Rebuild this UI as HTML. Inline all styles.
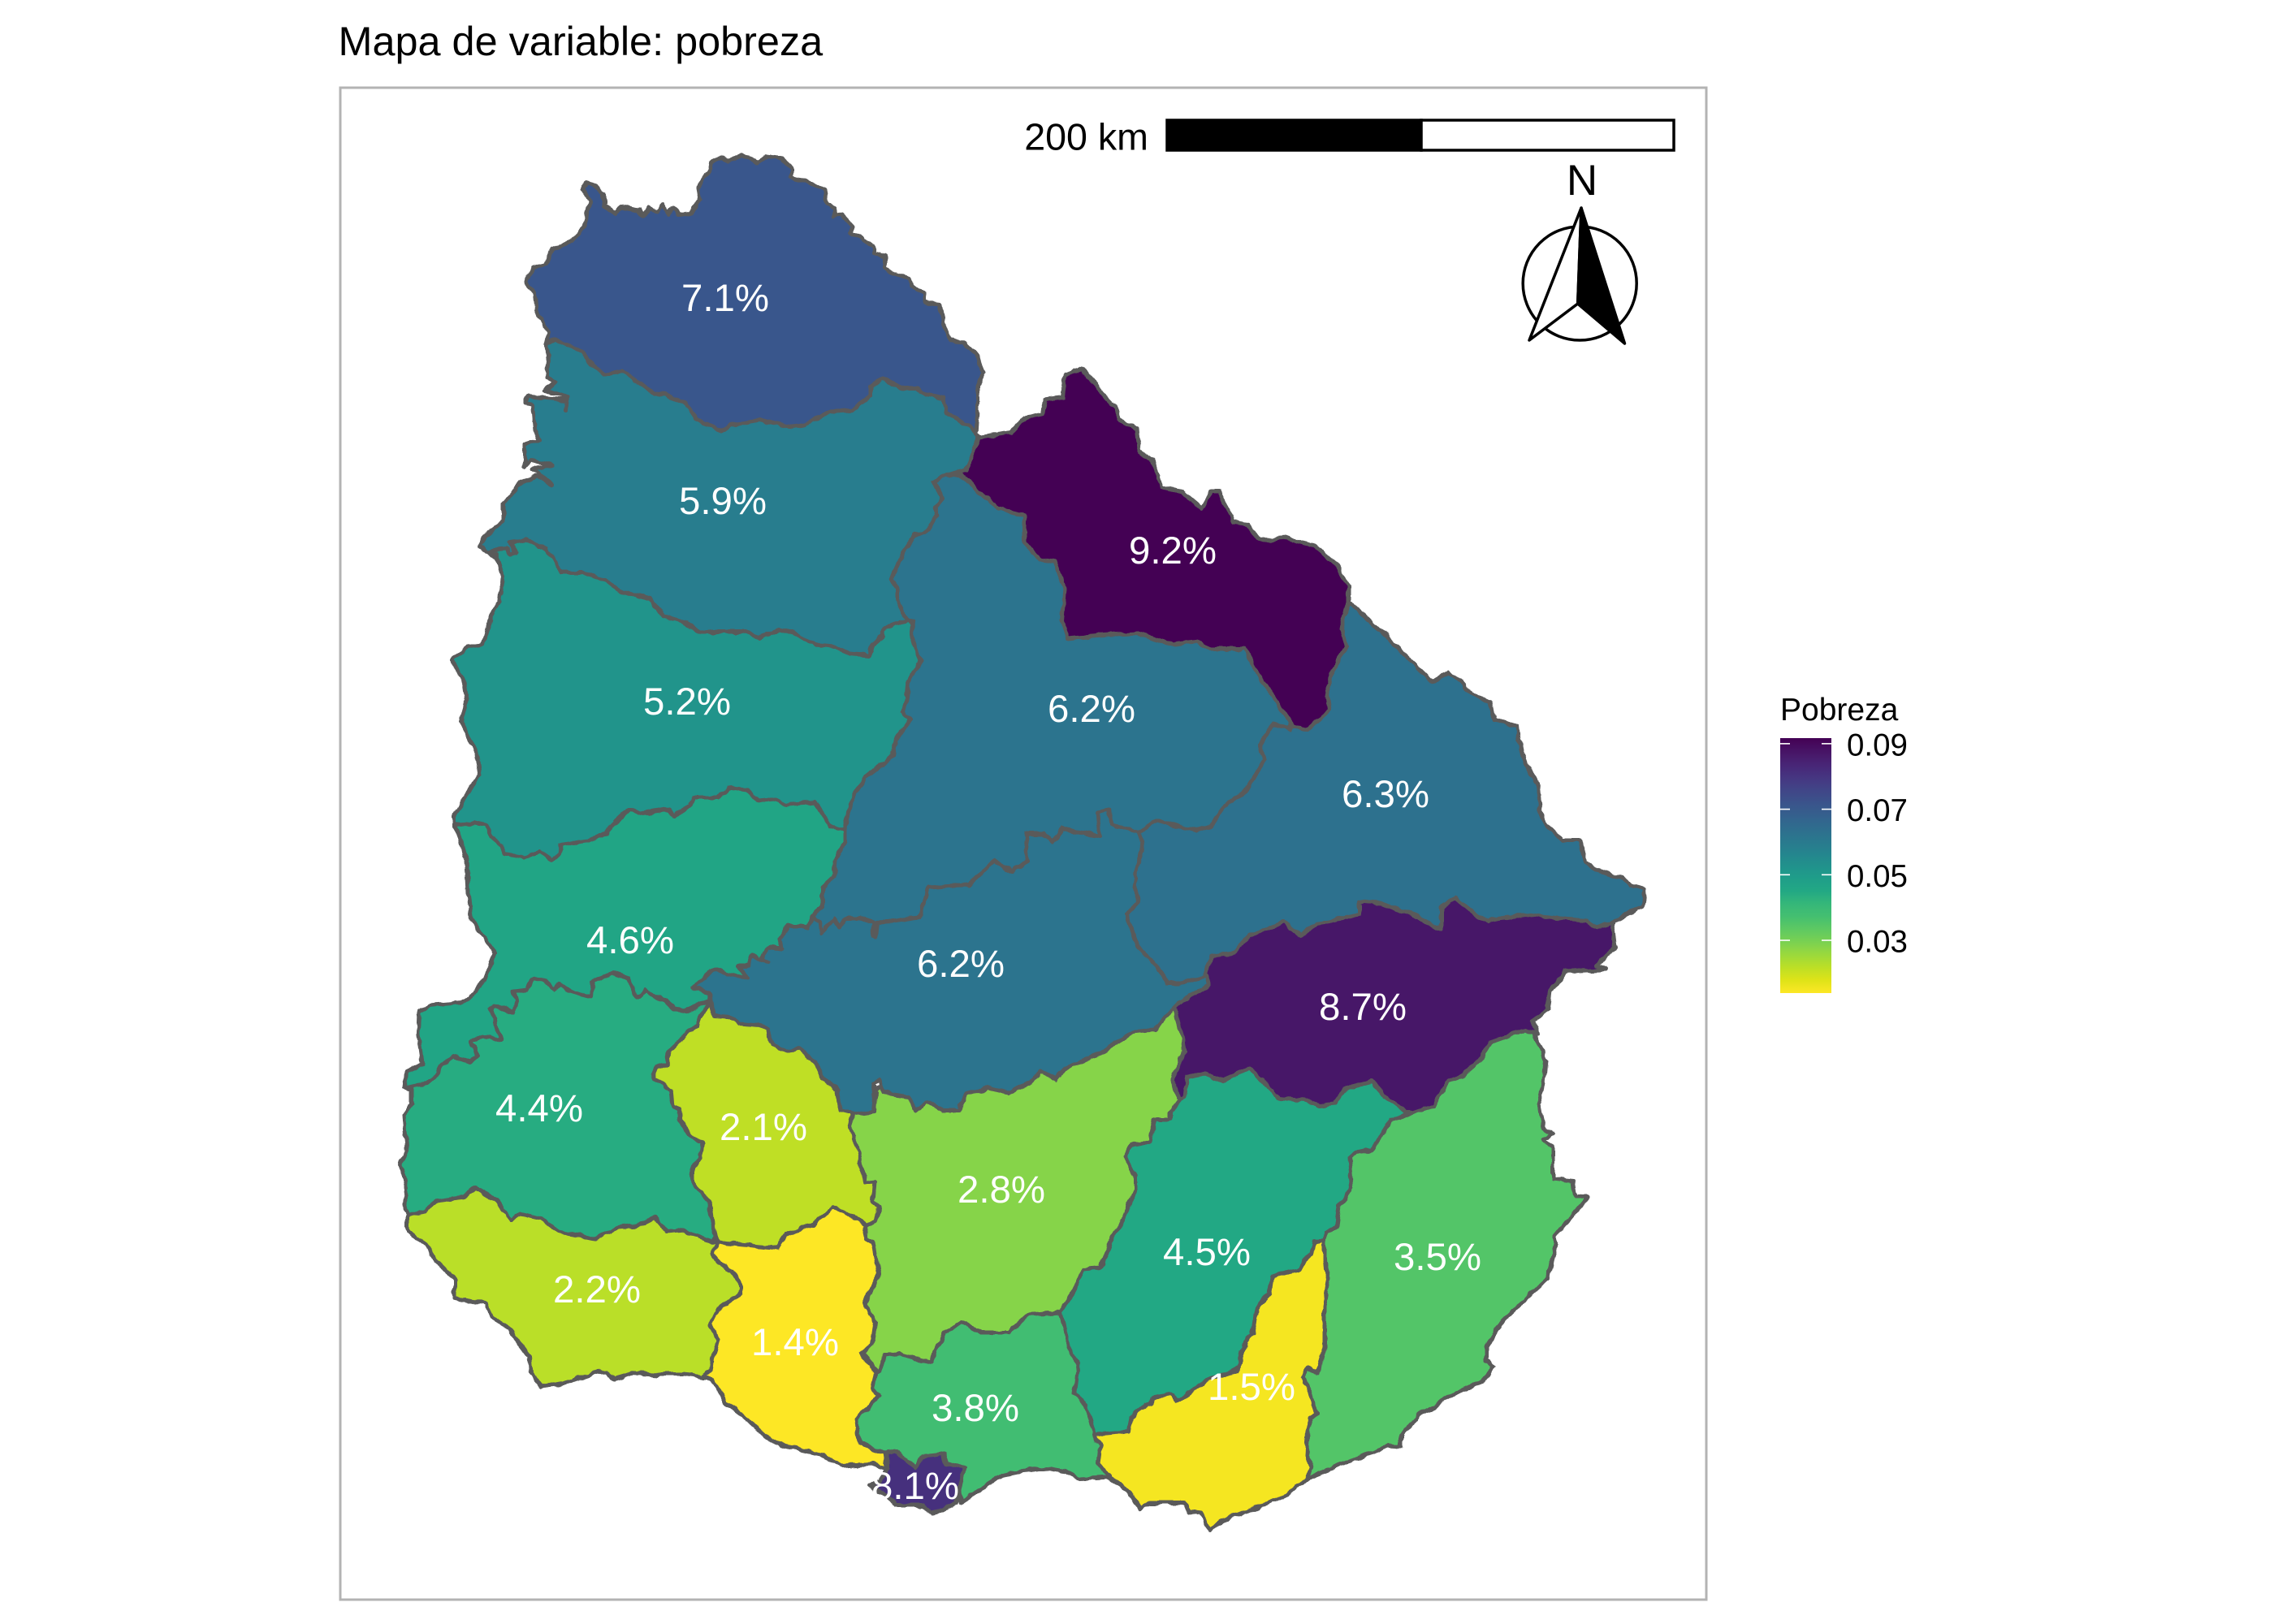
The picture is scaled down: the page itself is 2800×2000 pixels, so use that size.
<!DOCTYPE html>
<html lang="es">
<head>
<meta charset="utf-8">
<title>Mapa de variable: pobreza</title>
<style>
html,body{margin:0;padding:0;background:#fff;}
svg{display:block;font-family:"Liberation Sans",sans-serif;}
.dep{stroke:#5a5a5a;stroke-width:5;stroke-linejoin:round;}
.lab{fill:#fff;font-size:47.4px;text-anchor:middle;}
.leg{fill:#000;font-size:38.5px;}
</style>
</head>
<body>
<svg xmlns="http://www.w3.org/2000/svg" width="2800" height="2000" viewBox="0 0 2800 2000">
<defs>
<filter id="rough" filterUnits="userSpaceOnUse" x="0" y="0" width="2800" height="2000" color-interpolation-filters="sRGB">
<feTurbulence type="fractalNoise" baseFrequency="0.07" numOctaves="2" seed="4" result="n"/>
<feDisplacementMap in="SourceGraphic" in2="n" scale="7" xChannelSelector="R" yChannelSelector="G"/>
</filter>
</defs>
<rect x="0" y="0" width="2800" height="2000" fill="#fff"/>
<text x="416.5" y="68" font-size="50.4" fill="#000">Mapa de variable: pobreza</text>
<g id="regions" filter="url(#rough)">
<polygon class="dep" id="artigas" points="673,423 676,410 670,401 661,383 659,361 647,347 656,330 671,325 681,307 704,296 719,280 726,249 717,231 722,224 730,227 743,238 743,254 758,262 766,255 786,259 791,267 799,256 809,260 816,252 823,264 829,255 835,263 850,262 863,247 860,231 873,211 875,202 888,192 896,198 914,192 934,200 944,192 962,195 975,207 975,218 1000,227 1015,234 1018,251 1028,256 1026,267 1036,264 1049,278 1046,287 1059,292 1074,303 1077,312 1090,316 1090,330 1100,336 1120,343 1123,352 1138,363 1138,372 1157,375 1161,397 1169,417 1187,423 1202,437 1211,459 1204,475 1204,508 1202,533 1195,560 900,600 720,520 690,445"/>
<polygon class="dep" id="salto" points="673,423 673,428 676,439 673,464 684,470 671,481 699,489 697,506 698,493 648,488 648,497 656,499 659,530 664,542 646,548 646,575 653,566 680,573 656,577 680,597 659,586 641,595 620,620 620,642 595,662 591,673 602,680 640,720 760,760 880,810 1100,830 1140,800 1225,600 1210,545 1202,533 1189,522 1166,508 1163,490 1141,486 1128,479 1113,479 1087,466 1072,475 1072,488 1049,504 1031,506 1008,513 990,524 975,526 934,518 898,524 888,531 857,515 845,497 819,486 804,484 766,457 743,461 730,450 717,434 697,423 684,418"/>
<polygon class="dep" id="paysandu" points="560,1017 560,1002 574,979 591,955 587,928 568,888 575,863 572,843 556,812 577,796 595,794 605,758 615,740 620,709 610,682 602,680 608,677 625,676 628,683 635,682 628,668 648,664 674,676 681,689 692,705 717,705 743,714 766,729 801,738 817,759 837,765 863,778 914,778 934,785 960,775 977,780 1003,794 1028,796 1046,805 1069,807 1074,794 1087,783 1090,772 1118,763 1150,800 1100,1000 1000,1080 700,1090 610,1080 575,1030"/>
<polygon class="dep" id="rionegro" points="560,1017 585,1013 598,1016 605,1031 618,1042 621,1051 645,1055 665,1048 681,1059 688,1053 690,1040 725,1035 748,1026 759,1011 775,996 788,1002 824,996 829,1006 850,993 854,982 884,982 897,970 920,973 933,986 955,984 969,991 1004,988 1022,1017 1040,1022 1060,1060 1020,1160 900,1235 850,1290 700,1300 530,1350 498,1339 500,1321 520,1310 515,1274 516,1245 529,1238 574,1234 596,1207 609,1174 596,1154 580,1131 576,1100 574,1060 565,1026"/>
<polygon class="dep" id="soriano" points="498,1339 509,1337 527,1334 540,1323 542,1312 558,1301 580,1308 588,1301 580,1281 596,1276 616,1282 609,1254 603,1243 607,1238 632,1246 636,1234 632,1220 650,1218 656,1205 672,1209 681,1218 690,1212 701,1220 728,1227 730,1209 754,1198 775,1205 784,1229 795,1220 819,1232 830,1243 844,1245 873,1234 880,1300 900,1500 850,1560 520,1520 502,1497 498,1488 501,1463 493,1434 501,1419 497,1374 507,1360 507,1338"/>
<polygon class="dep" id="colonia" points="502,1497 522,1492 538,1479 571,1474 585,1463 612,1479 629,1504 641,1495 667,1501 688,1517 732,1526 761,1512 784,1510 806,1499 821,1517 842,1515 873,1528 884,1530 920,1600 900,1690 864,1696 842,1693 810,1693 784,1691 757,1699 746,1689 734,1690 694,1704 667,1708 654,1691 652,1671 623,1633 605,1622 600,1606 560,1599 560,1575 538,1553 525,1533 502,1517"/>
<polygon class="dep" id="flores" points="873,1237 862,1252 859,1263 846,1272 824,1296 821,1310 810,1314 804,1327 826,1343 828,1363 837,1366 839,1381 850,1401 864,1406 862,1426 853,1439 853,1457 873,1479 877,1506 884,1528 900,1560 1050,1560 1100,1500 1100,1400 1060,1340 1000,1270 900,1240"/>
<polygon class="dep" id="florida" points="1049,1370 1047,1390 1056,1412 1065,1457 1076,1455 1074,1479 1083,1486 1078,1504 1067,1510 1040,1600 1060,1660 1100,1720 1300,1690 1350,1620 1420,1420 1470,1340 1480,1300 1470,1245 1446,1241 1400,1240 1200,1320 1100,1330 1060,1350"/>
<polygon class="dep" id="durazno" points="1000,1129 995,1142 984,1140 971,1140 960,1156 962,1169 946,1167 938,1180 946,1185 926,1176 922,1189 909,1189 920,1205 897,1200 884,1194 873,1198 853,1216 873,1223 875,1234 880,1252 906,1254 911,1261 935,1263 946,1267 951,1287 971,1294 984,1292 1004,1308 1013,1328 1031,1343 1036,1368 1047,1368 1060,1372 1076,1370 1078,1345 1074,1334 1083,1330 1087,1345 1118,1350 1127,1368 1141,1357 1161,1368 1180,1368 1190,1348 1217,1340 1242,1346 1269,1333 1282,1320 1300,1329 1309,1318 1334,1305 1358,1296 1367,1288 1398,1270 1422,1268 1446,1241 1480,1240 1500,1195 1470,1180 1420,1100 1400,960 1100,1050 1025,1115 1013,1118"/>
<polygon class="dep" id="tacuarembo" points="1164,584 1151,593 1161,613 1151,624 1153,635 1143,653 1128,658 1113,680 1097,714 1105,725 1105,738 1113,758 1118,763 1125,765 1123,785 1133,814 1118,839 1116,859 1112,877 1121,886 1103,912 1100,930 1065,957 1047,988 1040,1022 1040,1037 1029,1060 1027,1080 1013,1093 1013,1118 1000,1129 1009,1136 1011,1149 1027,1131 1034,1142 1040,1131 1058,1131 1076,1136 1074,1151 1078,1154 1080,1136 1100,1135 1131,1130 1143,1093 1192,1090 1225,1060 1247,1074 1265,1060 1262,1049 1265,1027 1284,1027 1296,1038 1308,1021 1354,1030 1351,1000 1366,997 1369,1016 1403,1024 1450,1060 1530,1020 1580,950 1590,880 1530,780 1400,700 1200,585 1170,585"/>
<polygon class="dep" id="cerrolargo" points="1403,1024 1406,1049 1397,1076 1400,1112 1388,1126 1400,1164 1425,1189 1437,1211 1452,1211 1486,1202 1500,1210 1700,1150 1900,1170 1985,1150 1988,1134 2022,1117 2025,1095 2006,1090 2000,1082 1988,1079 1966,1071 1951,1060 1945,1035 1924,1035 1905,1016 1896,999 1893,969 1872,923 1868,895 1841,887 1835,865 1804,849 1801,838 1783,829 1764,840 1663,742 1640,760 1625,860 1600,885 1590,898 1568,892 1552,917 1556,936 1538,969 1510,991 1492,1016 1473,1024 1425,1010"/>
<polygon class="dep" id="rivera" points="1170,585 1189,580 1198,555 1204,539 1244,533 1262,514 1284,509 1287,492 1308,489 1311,462 1333,454 1351,478 1372,500 1379,517 1400,528 1403,555 1418,566 1431,599 1455,605 1480,626 1492,605 1501,605 1519,643 1535,646 1550,665 1584,662 1620,673 1645,695 1660,722 1660,742 1651,775 1658,797 1642,824 1633,851 1636,873 1627,884 1611,898 1593,894 1559,846 1532,799 1492,799 1473,791 1446,794 1400,780 1351,783 1314,786 1308,764 1311,725 1299,692 1281,690 1262,668 1262,635 1229,626 1183,585"/>
<polygon class="dep" id="rocha" points="1889,1273 1903,1307 1900,1335 1894,1361 1900,1387 1912,1396 1899,1405 1912,1413 1912,1452 1937,1455 1940,1474 1955,1474 1915,1522 1915,1539 1906,1574 1882,1596 1851,1626 1830,1658 1830,1676 1839,1682 1830,1697 1790,1717 1747,1743 1726,1767 1726,1782 1710,1781 1612,1819 1606,1823 1590,1800 1590,1700 1615,1560 1600,1500 1650,1420 1690,1380 1740,1350 1800,1300 1880,1250"/>
<polygon class="dep" id="lavalleja" points="1453,1353 1441,1370 1441,1379 1422,1379 1416,1405 1392,1411 1386,1424 1398,1448 1398,1465 1383,1500 1367,1530 1355,1561 1334,1563 1321,1593 1306,1615 1280,1700 1330,1760 1400,1790 1600,1620 1625,1560 1631,1526 1634,1517 1646,1511 1649,1485 1664,1463 1661,1426 1670,1420 1689,1416 1701,1398 1713,1379 1738,1370 1730,1345 1689,1310 1539,1290 1465,1310"/>
<polygon class="dep" id="treintaytres" points="1988,1134 1966,1142 1954,1134 1920,1131 1878,1126 1832,1134 1816,1126 1792,1106 1774,1117 1774,1145 1743,1128 1691,1109 1673,1112 1673,1126 1639,1134 1620,1137 1602,1153 1581,1136 1538,1153 1516,1175 1492,1178 1483,1200 1486,1202 1489,1213 1455,1233 1446,1241 1453,1266 1459,1294 1444,1329 1447,1344 1453,1353 1459,1351 1462,1327 1484,1322 1505,1331 1539,1316 1554,1329 1573,1352 1606,1355 1625,1361 1643,1359 1655,1342 1674,1335 1689,1331 1704,1348 1723,1364 1732,1370 1738,1370 1765,1361 1784,1331 1802,1325 1824,1303 1836,1283 1878,1268 1893,1274 1887,1257 1905,1244 1908,1222 1927,1197 1979,1194 1966,1189 1988,1167 1985,1142"/>
<polygon class="dep" id="maldonado" points="1606,1823 1615,1808 1609,1791 1612,1747 1622,1741 1612,1713 1603,1695 1609,1684 1623,1691 1631,1656 1631,1609 1637,1574 1631,1552 1631,1527 1618,1528 1615,1544 1600,1563 1566,1572 1563,1593 1548,1609 1542,1643 1533,1652 1524,1687 1484,1700 1450,1725 1441,1717 1419,1721 1416,1728 1392,1745 1389,1763 1346,1767 1330,1790 1340,1808 1367,1821 1392,1838 1404,1858 1416,1851 1459,1851 1465,1862 1478,1864 1490,1884 1499,1875 1539,1860 1585,1841"/>
<polygon class="dep" id="canelones" points="1306,1616 1266,1619 1242,1641 1230,1641 1208,1641 1184,1628 1162,1641 1147,1677 1132,1674 1107,1667 1089,1669 1083,1689 1060,1690 1040,1750 1060,1790 1092,1800 1110,1810 1180,1830 1184,1849 1233,1817 1257,1812 1288,1808 1312,1812 1331,1821 1367,1819 1352,1802 1355,1780 1346,1767 1346,1760 1337,1730 1323,1717 1328,1680 1318,1665"/>
<polygon class="dep" id="sanjose" points="884,1530 958,1537 967,1521 1002,1508 1025,1486 1040,1495 1051,1497 1067,1510 1065,1526 1076,1530 1083,1568 1065,1606 1078,1629 1074,1655 1060,1666 1078,1689 1074,1709 1083,1720 1054,1747 1058,1778 1089,1789 1092,1809 1074,1803 1036,1805 1011,1791 962,1780 942,1769 922,1749 893,1727 884,1709 871,1696 864,1696 875,1687 877,1673 884,1649 875,1631 884,1613 911,1593 913,1584 902,1566 886,1555 877,1543"/>
<polygon class="dep" id="montevideo" points="1092,1789 1103,1787 1127,1807 1136,1794 1161,1791 1165,1803 1187,1808 1184,1821 1178,1851 1147,1865 1136,1854 1103,1854 1094,1843 1071,1829 1083,1825 1092,1809"/>
</g>
<g id="labels">
<text class="lab" id="lab-artigas" x="893" y="383">7.1%</text>
<text class="lab" id="lab-salto" x="890" y="633">5.9%</text>
<text class="lab" id="lab-paysandu" x="846" y="880">5.2%</text>
<text class="lab" id="lab-rionegro" x="776" y="1174">4.6%</text>
<text class="lab" id="lab-soriano" x="664" y="1381">4.4%</text>
<text class="lab" id="lab-colonia" x="735" y="1604">2.2%</text>
<text class="lab" id="lab-flores" x="940" y="1404">2.1%</text>
<text class="lab" id="lab-florida" x="1233" y="1481">2.8%</text>
<text class="lab" id="lab-durazno" x="1183" y="1203">6.2%</text>
<text class="lab" id="lab-tacuarembo" x="1344" y="889">6.2%</text>
<text class="lab" id="lab-cerrolargo" x="1706" y="994">6.3%</text>
<text class="lab" id="lab-rivera" x="1444" y="694">9.2%</text>
<text class="lab" id="lab-rocha" x="1770" y="1564">3.5%</text>
<text class="lab" id="lab-lavalleja" x="1486" y="1558">4.5%</text>
<text class="lab" id="lab-treintaytres" x="1678" y="1256">8.7%</text>
<text class="lab" id="lab-maldonado" x="1541" y="1724">1.5%</text>
<text class="lab" id="lab-canelones" x="1201" y="1750">3.8%</text>
<text class="lab" id="lab-sanjose" x="979" y="1669">1.4%</text>
<text class="lab" id="lab-montevideo" x="1127" y="1846">8.1%</text>
</g>
<rect x="419" y="108" width="1682" height="1862" fill="none" stroke="#b3b3b3" stroke-width="3"/>
<g>
<text x="1414" y="184.5" font-size="46.6" text-anchor="end" fill="#000">200 km</text>
<rect x="1437" y="148" width="313" height="37" fill="#000" stroke="#000" stroke-width="3.5"/>
<rect x="1750" y="148" width="311" height="37" fill="#fff" stroke="#000" stroke-width="3.5"/>
</g>
<g>
<text x="1948" y="240" font-size="53" text-anchor="middle" fill="#000">N</text>
<circle cx="1945.2" cy="349" r="70" fill="none" stroke="#000" stroke-width="3.5"/>
<polygon points="1947,256 1883,419 1942.7,374" fill="#fff" stroke="#000" stroke-width="3.5" stroke-linejoin="round"/>
<polygon points="1947,256 1942.7,374 2000.5,423" fill="#000" stroke="#000" stroke-width="3.5" stroke-linejoin="round"/>
</g>
<g id="legend">
<text x="2192" y="887" font-size="39" fill="#000">Pobreza</text>
<defs><linearGradient id="legend-gradient" x1="0" y1="1" x2="0" y2="0"></linearGradient></defs>
<rect x="2192" y="909" width="63" height="314" fill="url(#legend-gradient)"/>
</g>
</svg>
<script>
const departments = ["artigas","salto","paysandu","rionegro","soriano","colonia","flores","florida","durazno","tacuarembo","cerrolargo","rivera","rocha","lavalleja","treintaytres","maldonado","canelones","sanjose","montevideo"];
const pobreza = [0.071,0.059,0.052,0.046,0.044,0.022,0.0214,0.028,0.062,0.062,0.063,0.0917,0.035,0.045,0.087,0.015,0.038,0.0139,0.081];
const legendTicks = [0.09,0.07,0.05,0.03];
const paletteStops = ["#fde725","#dfe318","#bddf26","#9bd93c","#7ad151","#5ec962","#44bf70","#35b779","#22a884","#1f9e89","#21918c","#25848e","#2a788e","#2f6c8e","#355f8d","#3b528b","#414487","#463480","#482475","#471365","#440154"];

function hexToRgb(h){
  return [1,3,5].map(function(i){return parseInt(h.substr(i,2),16);});
}
const rgbStops = paletteStops.map(hexToRgb);
const domainMin = Math.min.apply(null,pobreza);
const domainMax = Math.max.apply(null,pobreza);
function colorAt(t){
  const s=Math.max(0,Math.min(1,t))*(rgbStops.length-1);
  const i=Math.min(rgbStops.length-2,Math.floor(s));
  const k=s-i;
  return "rgb("+rgbStops[i].map(function(a,j){return Math.round(a+(rgbStops[i+1][j]-a)*k);}).join(",")+")";
}
function colorScale(v){return colorAt((v-domainMin)/(domainMax-domainMin));}
function legendY(v){return 1223-(v-domainMin)/(domainMax-domainMin)*314;}

departments.forEach(function(id,i){
  document.getElementById(id).setAttribute("fill",colorScale(pobreza[i]));
  document.getElementById("lab-"+id).textContent=(pobreza[i]*100).toFixed(1)+"%";
});

const SVGNS="http://www.w3.org/2000/svg";
const grad=document.getElementById("legend-gradient");
for(let i=0;i<=40;i++){
  const st=document.createElementNS(SVGNS,"stop");
  st.setAttribute("offset",(i/40));
  st.setAttribute("stop-color",colorAt(i/40));
  grad.appendChild(st);
}
const legend=document.getElementById("legend");
legendTicks.forEach(function(v){
  const y=legendY(v);
  [[2192,2204],[2243,2255]].forEach(function(seg){
    const ln=document.createElementNS(SVGNS,"line");
    ln.setAttribute("x1",seg[0]);
    ln.setAttribute("x2",seg[1]);
    ln.setAttribute("y1",y);
    ln.setAttribute("y2",y);
    ln.setAttribute("stroke","#fff");
    ln.setAttribute("stroke-width","1.6");
    
    
    legend.appendChild(ln);
  });
  const tx=document.createElementNS(SVGNS,"text");
  tx.setAttribute("x",2274);
  tx.setAttribute("y",y+14.5);
  tx.setAttribute("class","leg");
  tx.textContent=v.toFixed(2);
  
  
  legend.appendChild(tx);
});
</script>
</body>
</html>
